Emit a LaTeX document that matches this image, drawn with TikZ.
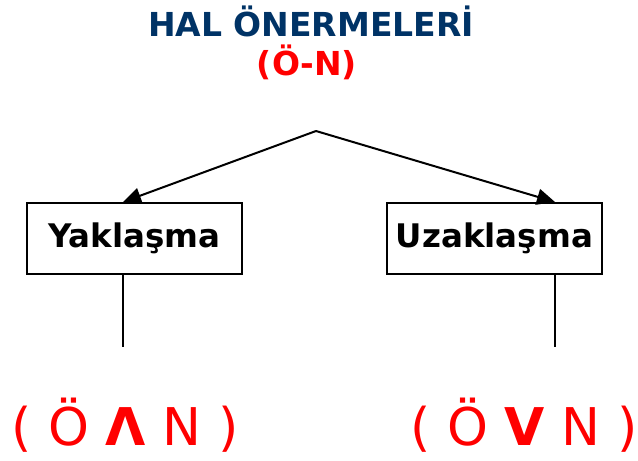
\documentclass[tikz,border=0pt]{standalone}
\usepackage{fontspec}
\setmainfont{DejaVu Sans}
\usetikzlibrary{arrows.meta}
\definecolor{titleblue}{RGB}{0,51,102}
\tikzset{
  box/.style={draw,line width=2pt,minimum width=215pt,minimum height=71pt,
    inner sep=0pt,font=\bfseries\fontsize{32.5}{38}\selectfont},
  formula/.style={text=red,font=\fontsize{52}{60}\selectfont},
  link/.style={line width=2pt}
}
\begin{document}
\begin{tikzpicture}[x=1pt,y=-1pt]
  \useasboundingbox (0,0) rectangle (638,461);
  \node[anchor=base,text=titleblue,font=\bfseries\fontsize{33}{38}\selectfont] (title) at (311,36) {HAL ÖNERMELERİ};
  \node[anchor=base,text=red,font=\bfseries\fontsize{33}{38}\selectfont] (sub) at (307,75) {(Ö-N)};
  \coordinate (apex) at (316,131);
  \node[box] (yak) at (134.5,238.5) {Yaklaşma};
  \node[box] (uza) at (494.5,238.5) {Uzaklaşma};
  \coordinate (yakend) at (123,347);
  \coordinate (uzaend) at (555,347);
  \draw[link,-{Triangle[length=18pt,width=16pt]}] (apex) -- (yakend |- yak.north);
  \draw[link,-{Triangle[length=18pt,width=16pt]}] (apex) -- (uzaend |- uza.north);
  \draw[link] (yakend |- yak.south) -- (yakend);
  \draw[link] (uzaend |- uza.south) -- (uzaend);
  % alt satir
  \node[formula] (andform) at (125,425) {( Ö \textbf{Λ} N )};
  \node[formula] (orform) at (524,425) {( Ö \textbf{V} N )};
\end{tikzpicture}
\end{document}
